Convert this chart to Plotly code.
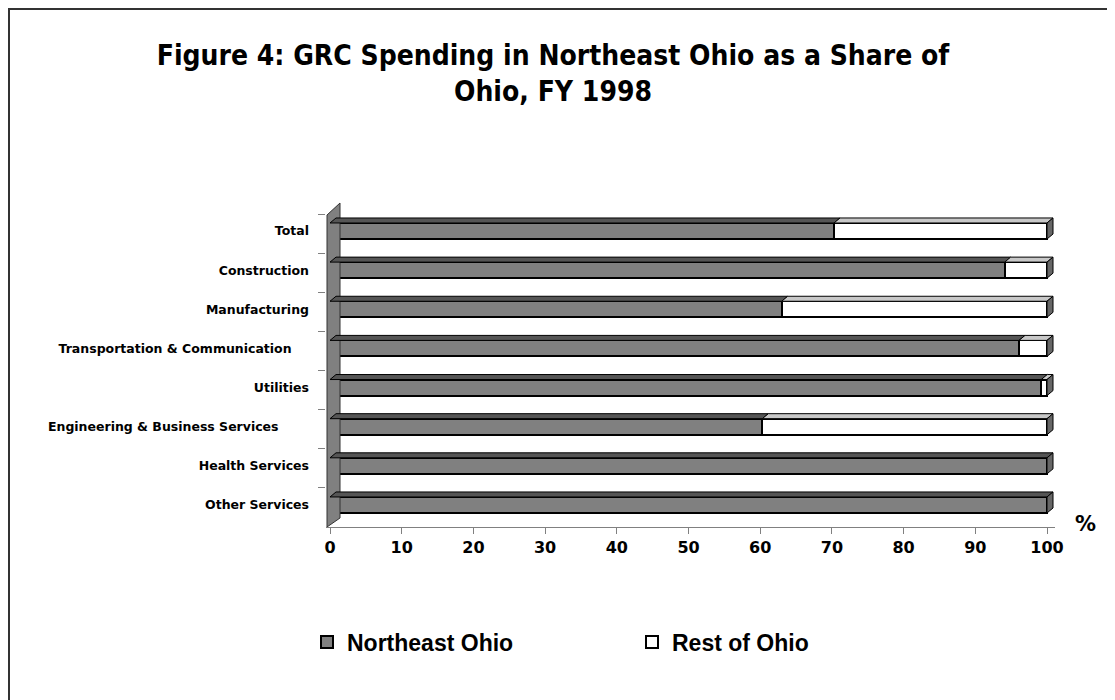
import plotly.graph_objects as go

categories = ["Total", "Construction", "Manufacturing", "Transportation & Communication",
              "Utilities", "Engineering & Business Services", "Health Services", "Other Services"]
tick_labels = ["Total", "Construction", "Manufacturing", "Transportation & Communication\u00a0\u00a0\u00a0\u00a0",
               "Utilities", "Engineering & Business Services\u00a0\u00a0\u00a0\u00a0\u00a0\u00a0\u00a0",
               "Health Services", "Other Services"]
northeast = [70.3, 94.1, 63.0, 96.1, 99.2, 60.3, 100.0, 100.0]
rest = [round(100 - v, 1) for v in northeast]

GRAY = "#808080"
FONT = "DejaVu Sans"

# geometry in page pixels (the figure div sits 8px in from the page corner)
OFF = 8
PL, PR, PT, PB = 326, 1055, 202, 527     # plot area edges on the page
PX_X, PX_Y = 7.17, 39.14                 # px per percent, px per category
X0_PX, Y0_PX = 330, 231                  # page px of value 0 / first category
pw, ph = PR - PL, PB - PT

x_range = [(PL - X0_PX) / PX_X, (PR - X0_PX) / PX_X]
y_range = [(PB - Y0_PX) / PX_Y, (PT - Y0_PX) / PX_Y]


def px_x(p):
    return (p - PL) / pw


def px_y(p):
    return (PB - p) / ph


W = 0.41                              # bar thickness (category units)
DX, DY = 6 / PX_X, 5 / PX_Y           # 3d depth offset

idx = list(range(len(categories)))

fig = go.Figure()

# left wall
wf, wb = -3 / PX_X, 10 / PX_X
wall_x = [wf, wb, wb, wf, wf]
wall_y = [(215 - Y0_PX) / PX_Y, (203 - Y0_PX) / PX_Y, (518 - Y0_PX) / PX_Y, y_range[0], (215 - Y0_PX) / PX_Y]
fig.add_trace(go.Scatter(x=wall_x, y=wall_y, fill="toself", fillcolor=GRAY, mode="lines",
                         line=dict(color="#333333", width=1), showlegend=False, hoverinfo="skip"))

fig.add_trace(go.Bar(y=idx, x=northeast, orientation="h", name="Northeast Ohio", width=W,
                     marker=dict(color=GRAY, line=dict(color="black", width=2))))
fig.add_trace(go.Bar(y=idx, x=rest, orientation="h", name="Rest of Ohio", width=W,
                     marker=dict(color="white", line=dict(color="black", width=2))))


def faces(segs, kind):
    xs, ys = [], []
    for i, a, b in segs:
        top = i - W / 2
        if kind == "top":
            xs += [a, b, b + DX, a + DX, a, None]
            ys += [top, top, top - DY, top - DY, top, None]
        else:
            xs += [b, b, b + DX, b + DX, b, None]
            ys += [top, i + W / 2, i + W / 2 - DY, top - DY, top, None]
    return xs, ys


gray_tops = [(i, 0, v) for i, v in zip(idx, northeast)]
white_tops = [(i, n, n + r) for i, n, r in zip(idx, northeast, rest) if r > 0]
sides = [(i, 0, n + r) for i, n, r in zip(idx, northeast, rest)]

for segs, kind, col in [(gray_tops, "top", "#555555"), (white_tops, "top", "#c8c8c8"), (sides, "side", "#666666")]:
    fx, fy = faces(segs, kind)
    fig.add_trace(go.Scatter(x=fx, y=fy, fill="toself", fillcolor=col, mode="lines",
                             line=dict(color="black", width=1), showlegend=False, hoverinfo="skip"))

fig.update_layout(
    barmode="stack",
    width=1115, height=700,
    margin=dict(l=PL - OFF, r=1115 - (PR - OFF), t=PT - OFF, b=700 - (PB - OFF)),
    paper_bgcolor="white", plot_bgcolor="white",
    font=dict(family=FONT, color="black"),
    title=dict(text="Figure 4: GRC Spending in Northeast Ohio as a Share of<br>Ohio, FY 1998",
               x=(553 - OFF) / 1115, xanchor="center", y=1 - (65 - OFF) / 700, yanchor="middle",
               font=dict(size=28, family="DejaVu Sans Condensed, DejaVu Sans", weight="bold")),
    legend=dict(orientation="h", x=px_x(307), y=px_y(642), xanchor="left", yanchor="middle",
                entrywidth=280, itemwidth=30,
                font=dict(size=23, family="Liberation Sans", weight="bold"), traceorder="normal"),
    showlegend=True,
)

fig.update_xaxes(range=x_range, tickmode="array", tickvals=list(range(0, 101, 10)),
                 showgrid=False, zeroline=False, showline=True, linecolor=GRAY, linewidth=1,
                 ticks="outside", ticklen=6, tickcolor=GRAY,
                 tickfont=dict(size=16, family=FONT, weight="bold"))
fig.update_yaxes(range=y_range, tickmode="array", tickvals=idx, ticktext=tick_labels,
                 showgrid=False, zeroline=False, showline=False, ticks="",
                 ticklabelstandoff=16,
                 tickfont=dict(size=12.5, family=FONT, weight="bold"),
                 minor=dict(tick0=(214 - Y0_PX) / PX_Y, dtick=1, ticks="outside", ticklen=7,
                            tickcolor=GRAY, showgrid=False))

fig.add_annotation(text="%", xref="paper", yref="paper", x=px_x(1085), y=px_y(524),
                   xanchor="center", yanchor="middle",
                   showarrow=False, font=dict(size=21, family=FONT, weight="bold"))

# frame of the chart area (only left and top edges fall inside the window)
fig.add_shape(type="rect", xref="paper", yref="paper",
              x0=px_x(OFF + 1), x1=px_x(1140), y0=px_y(720), y1=px_y(OFF + 1),
              line=dict(color="#333333", width=2), fillcolor="rgba(0,0,0,0)")

fig.write_html("out.html")
